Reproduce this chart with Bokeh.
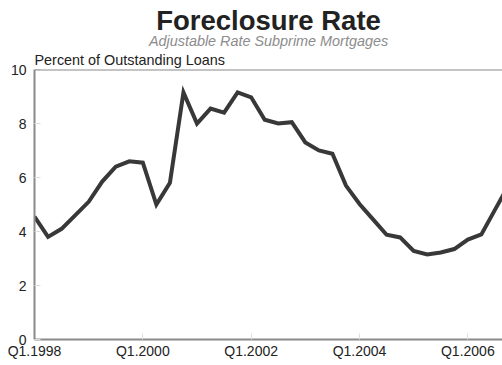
from bokeh.plotting import figure
from bokeh.models import Range1d, FixedTicker, Span, Title
from bokeh.embed import file_html
from bokeh.resources import INLINE

years = list(range(1998, 2007))
quarters = [f"Q{q}.{y}" for y in years for q in (1, 2, 3, 4)]
rate = [4.55, 3.8, 4.1, 4.6, 5.1, 5.85, 6.4, 6.6, 6.55, 5.0, 5.8, 9.15,
        8.0, 8.55, 8.4, 9.15, 8.97, 8.14, 8.0, 8.05, 7.3, 7.0, 6.88, 5.7,
        5.02, 4.45, 3.88, 3.78, 3.28, 3.15, 3.22, 3.35, 3.7, 3.89, 4.8, 5.7]
x_idx = list(range(len(rate)))
tick_pos = [0, 8, 16, 24, 32]
y_ticks = [0, 2, 4, 6, 8, 10]

title_text = "Foreclosure Rate"
subtitle_text = "Adjustable Rate Subprime Mortgages"
ylabel_text = "Percent of Outstanding Loans"

FONT = "Liberation Sans"

p = figure(width=502, height=365, output_backend="svg", toolbar_location=None,
           x_range=Range1d(0, 34.56), y_range=Range1d(0, 10),
           min_border_left=34, min_border_right=0, min_border_top=69,
           min_border_bottom=26, title=None)
p.outline_line_color = None
p.background_fill_color = "white"
p.border_fill_color = "white"
p.xgrid.visible = False
p.ygrid.visible = False

p.line(x_idx, rate, line_color="#383838", line_width=4, line_join="miter")

for ax in (p.xaxis[0], p.yaxis[0]):
    ax.axis_line_color = "#8a8a8a"
    ax.axis_line_width = 2
    ax.major_tick_in = 6
    ax.major_tick_out = 0
    ax.major_tick_line_color = "#dddddd"
    ax.major_tick_line_width = 1
    ax.minor_tick_line_color = None
    ax.major_label_text_font = FONT
    ax.major_label_text_font_size = "14px"
    ax.major_label_text_color = "#222222"

p.xaxis.ticker = FixedTicker(ticks=tick_pos)
p.xaxis.major_label_overrides = {t: quarters[t] for t in tick_pos}
p.xaxis.major_label_standoff = 3
p.yaxis.ticker = FixedTicker(ticks=y_ticks)
p.yaxis.major_label_standoff = 8

p.add_layout(Span(location=10, dimension="width", line_color="#8a8a8a", line_width=2))

p.add_layout(Title(text=ylabel_text, align="left", offset=0, standoff=4,
                   text_font=FONT, text_font_size="14.4px", text_font_style="normal",
                   text_color="#222222"), "above")
p.add_layout(Title(text=subtitle_text, align="center", standoff=-3,
                   text_font=FONT, text_font_size="14.4px", text_font_style="italic",
                   text_color="#8c8c8c"), "above")
p.add_layout(Title(text=title_text, align="center", standoff=-6,
                   text_font=FONT, text_font_size="27.5px", text_font_style="bold",
                   text_color="#222222"), "above")

open("out.html", "w").write(file_html(p, INLINE))
